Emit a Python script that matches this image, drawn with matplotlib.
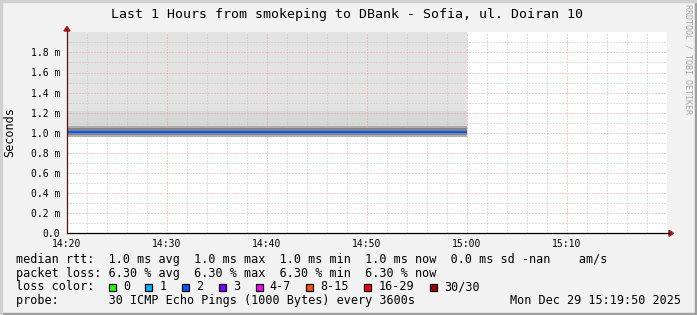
import numpy as np
import matplotlib
matplotlib.use('Agg')
import matplotlib.pyplot as plt
from matplotlib.patches import Rectangle, Polygon
from matplotlib.lines import Line2D

W, H = 697, 315
MONO = 'DejaVu Sans Mono'

# measured data: minutes after 14:20, rtt in ms
time_min = [0, 10, 20, 30, 40]
median_ms = [1.008, 1.008, 1.008, 1.008, 1.008]
smoke_outer_lo = [0.961, 0.961, 0.961, 0.961, 0.961]
smoke_outer_hi = [1.068, 1.068, 1.068, 1.068, 1.068]
smoke_inner_lo = [0.978, 0.978, 0.978, 0.978, 0.978]
smoke_inner_hi = [1.045, 1.045, 1.045, 1.045, 1.045]
shade_mid_hi = [1.22, 1.22, 1.22, 1.22, 1.22]
shade_top = [2.0, 2.0, 2.0, 2.0, 2.0]

x_ticks = [0, 10, 20, 30, 40, 50]
x_tick_labels = ['14:20', '14:30', '14:40', '14:50', '15:00', '15:10']
y_ticks = [0.0, 0.2, 0.4, 0.6, 0.8, 1.0, 1.2, 1.4, 1.6, 1.8]
y_tick_labels = ['0.0', '0.2 m', '0.4 m', '0.6 m', '0.8 m', '1.0 m',
                 '1.2 m', '1.4 m', '1.6 m', '1.8 m']

loss_labels = ['0', '1', '2', '3', '4-7', '8-15', '16-29', '30/30']
loss_colors = ['#26ff00', '#00b8ff', '#0059ff', '#7e00ff',
               '#ff00ff', '#ff5500', '#ff0000', '#a10000']

title = 'Last 1 Hours from smokeping to DBank - Sofia, ul. Doiran 10'
rtt_line = ('median rtt:  1.0 ms avg  1.0 ms max  1.0 ms min  '
            '1.0 ms now  0.0 ms sd -nan    am/s')
loss_line = 'packet loss: 6.30 % avg  6.30 % max  6.30 % min  6.30 % now'
probe_line = 'probe:       30 ICMP Echo Pings (1000 Bytes) every 3600s'
date_text = 'Mon Dec 29 15:19:50 2025'


def fx(x):
    return x / W


def fy(y):
    return 1 - y / H


fig = plt.figure(figsize=(W / 100, H / 100), dpi=100, facecolor='#f2f2f2')

# plot area in pixels: x 67..667, y 32.3..233.3
ax = fig.add_axes([fx(67), fy(233.3), 600 / W, 201 / H])
ax.set_facecolor('white')
ax.set_xlim(0, 60)
ax.set_ylim(0, 2.0)

# shaded areas and smoke
ax.fill_between(time_min, shade_mid_hi, shade_top, color='#e3e3e3', lw=0, zorder=0.5)
ax.fill_between(time_min, smoke_outer_hi, shade_mid_hi, color='#d8d8d8', lw=0, zorder=0.5)
ax.fill_between(time_min, smoke_outer_lo, smoke_outer_hi, color='#adadad', lw=0, zorder=2)
ax.fill_between(time_min, smoke_inner_lo, smoke_inner_hi, color='#858585', lw=0, zorder=2.1)
ax.plot(time_min, median_ms, color='#0059ff', lw=1.5, zorder=3, solid_capstyle='butt')

# grid
for v in np.arange(0, 61, 2):
    major = v % 10 == 0
    ax.axvline(v, color='#e8a0a0' if major else '#c4c4c4', lw=0.72,
               ls=(0, (1, 2)), zorder=1)
for v in np.arange(0.1, 2.0, 0.1):
    major = round(v * 10) % 2 == 0
    ax.axhline(v, color='#e8a0a0' if major else '#c4c4c4', lw=0.72,
               ls=(0, (1, 2)), zorder=1)

for s in ax.spines.values():
    s.set_visible(False)

ax.set_xticks(x_ticks)
ax.set_xticklabels(x_tick_labels, fontfamily=MONO, fontsize=7)
ax.set_yticks(y_ticks)
ax.set_yticklabels(y_tick_labels, fontfamily=MONO, fontsize=7)
ax.tick_params(axis='x', length=0, pad=4.3, colors='#000000')
ax.tick_params(axis='y', length=0, pad=5, colors='#000000')

# axes lines with arrows
fig.add_artist(Line2D([fx(67), fx(669)], [fy(233.3), fy(233.3)], color='black', lw=0.9))
fig.add_artist(Line2D([fx(67), fx(67)], [fy(233.3), fy(30.5)], color='#5a1010', lw=0.9))
fig.add_artist(Polygon([[fx(669), fy(230.3)], [fx(673.5), fy(233.3)], [fx(669), fy(236.3)]],
                       closed=True, color='#a01818', transform=fig.transFigure))
fig.add_artist(Polygon([[fx(64), fy(31)], [fx(67), fy(26.5)], [fx(70), fy(31)]],
                       closed=True, color='#a01818', transform=fig.transFigure))

# texts
fig.text(fx(347), fy(18), title, fontfamily=MONO, fontsize=9.5,
         ha='center', va='baseline')
fig.text(fx(10), fy(132), 'Seconds', fontfamily=MONO, fontsize=8.5,
         rotation=90, ha='center', va='center')
fig.text(fx(688), fy(4), 'RRDTOOL / TOBI OETIKER', fontfamily=MONO, fontsize=6,
         color='#a8a8a8', rotation=270, ha='center', va='top')

fig.text(fx(16), fy(262.6), rtt_line, fontfamily=MONO, fontsize=8.5, va='baseline')
fig.text(fx(16), fy(276.5), loss_line, fontfamily=MONO, fontsize=8.5, va='baseline')
fig.text(fx(16), fy(290.4), 'loss color:', fontfamily=MONO, fontsize=8.5, va='baseline')
fig.text(fx(16), fy(304.2), probe_line, fontfamily=MONO, fontsize=8.5, va='baseline')
fig.text(fx(681), fy(304.2), date_text, fontfamily=MONO, fontsize=8.5,
         ha='right', va='baseline')

char_w = 7.1
bx = 108.7
for lab, col in zip(loss_labels, loss_colors):
    fig.add_artist(Rectangle((fx(bx), fy(290.7)), 7 / W, 7 / H, facecolor=col,
                             edgecolor='black', lw=0.9, transform=fig.transFigure))
    fig.text(fx(bx + 14.3), fy(290.4), lab, fontfamily=MONO, fontsize=8.5, va='baseline')
    bx += 29.6 + len(lab) * char_w

# frame border
fig.add_artist(Rectangle((0, 0), 1, 2 / H, color='#9f9f9f', transform=fig.transFigure))
fig.add_artist(Rectangle((1 - 2 / W, 0), 2 / W, 1, color='#9f9f9f', transform=fig.transFigure))
fig.add_artist(Rectangle((0, 1 - 2 / H), 1, 2 / H, color='#d0d0d0', transform=fig.transFigure))
fig.add_artist(Rectangle((0, 0), 2 / W, 1 - 2 / H, color='#d0d0d0', transform=fig.transFigure))

fig.savefig('out.png', dpi=100, facecolor=fig.get_facecolor())
